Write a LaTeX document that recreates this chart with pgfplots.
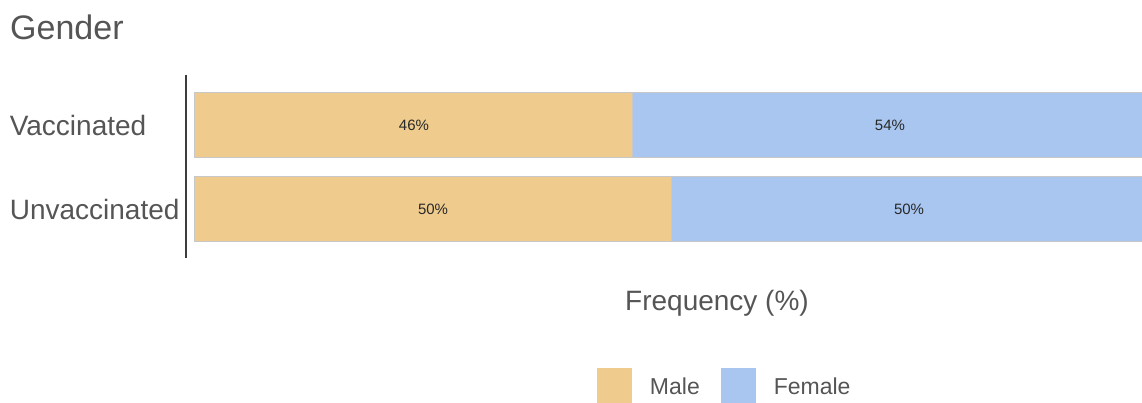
\documentclass[border=0pt]{standalone}
\usepackage{pgfplots}
\pgfplotsset{compat=1.18}
\usepackage{fontspec}
\setmainfont{Liberation Sans}
\definecolor{male}{RGB}{239,204,142}
\definecolor{female}{RGB}{168,198,240}
\definecolor{txt}{RGB}{85,85,85}
\definecolor{bord}{RGB}{200,200,200}
\definecolor{axl}{RGB}{60,60,60}
\begin{document}
\begin{tikzpicture}[x=1pt,y=1pt]
\useasboundingbox (0,0) rectangle (1142,403);
\node[anchor=base west, inner sep=0pt, text=txt, font=\fontsize{34}{39}\selectfont] at (10,363) {Gender};
\node[anchor=base, inner sep=0pt, text=txt, font=\fontsize{28}{32}\selectfont] at (717,92) {Frequency (\%)};
\begin{axis}[
  at={(186pt,145pt)}, anchor=south west,
  scale only axis, width=956pt, height=183pt,
  xbar stacked, bar width=65pt,
  xmin=-0.945, xmax=99.47, ymin=-0.5774, ymax=1.6012,
  clip=false,
  axis x line=none, axis y line*=left,
  y axis line style={-, draw=axl, line width=2pt},
  ytick={0,1}, yticklabels={Unvaccinated,Vaccinated},
  major tick length=0pt,
  yticklabel style={font=\fontsize{28}{33}\selectfont, text=txt, inner sep=0pt, text width=176pt, align=left, anchor=east},
  point meta=rawx,
  nodes near coords={\pgfmathprintnumber[assume math mode=true]{\pgfplotspointmeta}\%},
  every node near coord/.append style={anchor=center, font=\fontsize{15}{18}\selectfont, text={rgb,255:red,40;green,40;blue,40}},
  legend columns=2,
  legend style={draw=none, fill=none, inner sep=0pt, outer sep=0pt, at={(0.4299,-0.7049)}, anchor=west, font=\fontsize{23}{27}\selectfont, text=txt, /tikz/every odd column/.append style={column sep=18pt}, /tikz/every even column/.append style={column sep=21pt}, nodes={inner sep=0pt, yshift=9pt}},
  legend image code/.code={\path[#1, draw=none] (0pt,-10.5pt) rectangle (35pt,27.5pt);},
]
\addplot[fill=male, draw=bord, line width=1pt] coordinates {(46,1) (50,0)};
\addplot[fill=female, draw=bord, line width=1pt] coordinates {(54,1) (50,0)};
\legend{Male,Female}
\end{axis}
\end{tikzpicture}
\end{document}
